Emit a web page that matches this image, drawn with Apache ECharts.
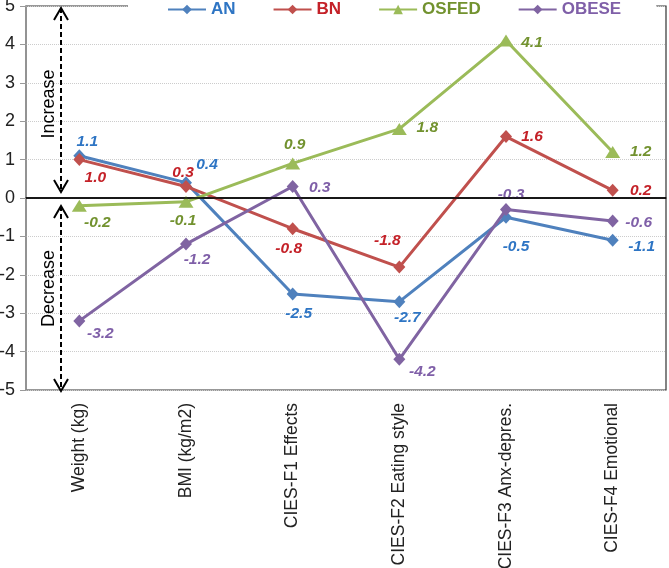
<!DOCTYPE html>
<html>
<head>
<meta charset="utf-8">
<script src="https://cdn.jsdelivr.net/npm/echarts@6/dist/echarts.min.js"></script>
<style>
  html, body { margin: 0; padding: 0; background: #fff; }
  #main { width: 669px; height: 568px; }
</style>
</head>
<body>
<div id="main"></div>
<script>
// categories and values
var categories = ['Weight (kg)', 'BMI (kg/m2)', 'CIES-F1 Effects', 'CIES-F2 Eating style', 'CIES-F3 Anx-depres.', 'CIES-F4 Emotional'];
var anValues = [1.1, 0.4, -2.5, -2.7, -0.5, -1.1];
var bnValues = [1.0, 0.3, -0.8, -1.8, 1.6, 0.2];
var osfedValues = [-0.2, -0.1, 0.9, 1.8, 4.1, 1.2];
var obeseValues = [-3.2, -1.2, 0.3, -4.2, -0.3, -0.6];
var yTicks = [-5, -4, -3, -2, -1, 0, 1, 2, 3, 4, 5];

// where each value label sits relative to its point (px)
var anOffsets = [[8, -14], [21, -18], [6, 20], [8, 16], [10, 30], [29, 6]];
var bnOffsets = [[16, 18], [-3, -14], [-4, 20], [-12, -26], [26, 0], [28, 0]];
var osfedOffsets = [[18, 17], [-3, 19], [2, -19], [28, -1], [26, 2], [28, 0]];
var obeseOffsets = [[21, 13], [11, 16], [27, 1], [23, 12], [5, -15], [26, 2]];

var labelFont = "'Liberation Sans', Arial, sans-serif";

var myChart = echarts.init(document.getElementById('main'));

function makeData(values, offsets) {
	return values.map(function (v, i) {
		return { value: v, label: { offset: offsets[i] } };
	});
}

function makeSeries(name, values, offsets, lineColor, textColor, symbol, size) {
	return {
		name: name,
		type: 'line',
		data: makeData(values, offsets),
		symbol: symbol,
		symbolSize: size,
		color: lineColor,
		lineStyle: { width: 3, color: lineColor },
		itemStyle: { color: lineColor },
		label: {
			show: true,
			position: 'inside',
			color: textColor,
			fontFamily: labelFont,
			fontSize: 15.5,
			fontWeight: 'bold',
			fontStyle: 'italic',
			formatter: function (p) { return p.value.toFixed(1); }
		},
		emphasis: { disabled: true }
	};
}

var series = [
	makeSeries('AN', anValues, anOffsets, '#4F81BD', '#2E75C4', 'diamond', [12, 13]),
	makeSeries('BN', bnValues, bnOffsets, '#C0504D', '#C42128', 'diamond', [12, 13]),
	makeSeries('OSFED', osfedValues, osfedOffsets, '#9BBB59', '#72922F', 'triangle', [15, 12]),
	makeSeries('OBESE', obeseValues, obeseOffsets, '#8064A2', '#7F5FA8', 'diamond', [12, 13])
];
series[0].markLine = {
	silent: true,
	symbol: 'none',
	label: { show: false },
	lineStyle: { color: '#000', width: 1.5, type: 'solid' },
	data: [{ yAxis: 0 }]
};
series[0].z = 1;

option = {
	animation: false,
	backgroundColor: '#fff',
	grid: {
		left: 26,
		right: 3,
		top: 6,
		bottom: 178,
		outerBoundsMode: 'none',
		show: true,
		borderColor: '#333',
		borderWidth: 1.2
	},
	legend: {
		left: 128,
		top: 0,
		padding: [1, 35, 1, 39],
		backgroundColor: '#fff',
		itemWidth: 38,
		itemHeight: 12,
		itemGap: 37,
		textStyle: { fontFamily: labelFont, fontSize: 17, fontWeight: 'bold' },
		data: [
			{ name: 'AN', textStyle: { color: '#2E75C4' } },
			{ name: 'BN', textStyle: { color: '#C42128' } },
			{ name: 'OSFED', textStyle: { color: '#72922F' } },
			{ name: 'OBESE', textStyle: { color: '#7F5FA8' } }
		]
	},
	xAxis: {
		type: 'category',
		data: categories,
		boundaryGap: true,
		axisTick: { show: false },
		axisLine: { lineStyle: { color: '#333', width: 1.5 } },
		axisLabel: {
			rotate: 90,
			margin: 13,
			fontFamily: labelFont,
			fontSize: 17.5,
			color: '#222',
			interval: 0
		}
	},
	yAxis: {
		type: 'value',
		min: yTicks[0],
		max: yTicks[yTicks.length - 1],
		interval: 1,
		axisLine: { show: true, lineStyle: { color: '#999', width: 1.5 } },
		axisTick: { show: true, length: 6, lineStyle: { color: '#999' } },
		axisLabel: {
			margin: 11,
			fontFamily: labelFont,
			fontSize: 18,
			color: '#222'
		},
		splitLine: { lineStyle: { color: '#ccc', type: 'dotted' } }
	},
	series: series
};
myChart.setOption(option);

// dashed "Increase"/"Decrease" arrows beside the y axis
var yTop = myChart.convertToPixel({ yAxisIndex: 0 }, 5);
var yZero = myChart.convertToPixel({ yAxisIndex: 0 }, 0);
var yBot = myChart.convertToPixel({ yAxisIndex: 0 }, -5);
var ax = 61;

function chevron(tipY, dir) {
	return {
		type: 'polyline',
		shape: { points: [[ax - 7, tipY + dir * 12], [ax, tipY], [ax + 7, tipY + dir * 12]] },
		style: { stroke: '#000', lineWidth: 2, fill: null },
		z: 10
	};
}
function dashed(y1, y2) {
	return {
		type: 'line',
		shape: { x1: ax, y1: y1, x2: ax, y2: y2 },
		style: { stroke: '#000', lineWidth: 2, lineDash: [5, 3] },
		z: 10
	};
}
function vtext(text, cy) {
	return {
		type: 'text',
		x: 49,
		y: cy,
		rotation: Math.PI / 2,
		style: {
			text: text,
			fontFamily: labelFont,
			fontSize: 18,
			fill: '#000',
			align: 'center',
			verticalAlign: 'middle'
		},
		z: 10
	};
}

var incTop = yTop + 2, incBot = yZero - 6;
var decTop = yZero + 8, decBot = yBot + 1;
myChart.setOption({
	graphic: [
		dashed(incTop, incBot), chevron(incTop, 1), chevron(incBot, -1),
		dashed(decTop, decBot), chevron(decTop, 1), chevron(decBot, -1),
		vtext('Increase', (incTop + incBot) / 2 + 4),
		vtext('Decrease', (decTop + decBot) / 2 - 10)
	]
});

window.addEventListener('resize', function () {
	myChart.resize();
});
</script>
</body>
</html>
